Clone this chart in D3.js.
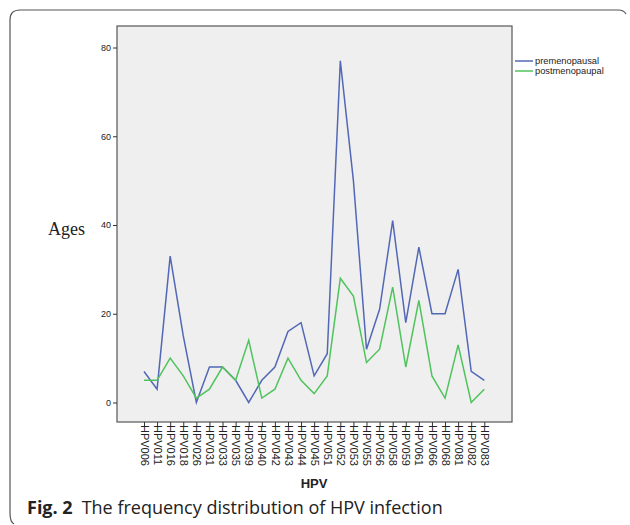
<!DOCTYPE html>
<html lang="en">
  <head>
    <meta charset="UTF-8" />
    <title>HPV frequency distribution</title>
    <script src="https://d3js.org/d3.v7.min.js"></script>
    <style>
      html,
      body {
        margin: 0;
        padding: 0;
        background: #fff;
      }
      .axis text {
        font-family: Arial, "Liberation Sans", sans-serif;
        font-size: 9px;
        fill: #222;
      }
      .axis path,
      .axis line {
        stroke: #333;
      }
    </style>
  </head>
  <body>
    <script>
      // categories (HPV types)
      var categories = ["HPV006", "HPV011", "HPV016", "HPV018", "HPV026", "HPV031", "HPV033",
        "HPV035", "HPV039", "HPV040", "HPV042", "HPV043", "HPV044", "HPV045", "HPV051",
        "HPV052", "HPV053", "HPV055", "HPV056", "HPV058", "HPV059", "HPV061", "HPV066",
        "HPV068", "HPV081", "HPV082", "HPV083"];

      var premenopausal = [7, 3, 33, 15, 0, 8, 8, 5, 0, 5, 8, 16, 18, 6, 11, 77, 50, 12, 21, 41, 18, 35, 20, 20, 30, 7, 5];
      var postmenopausal = [5, 5, 10, 6, 1, 3, 8, 5, 14, 1, 3, 10, 5, 2, 6, 28, 24, 9, 12, 26, 8, 23, 6, 1, 13, 0, 3];

      var yTicks = [0, 20, 40, 60, 80];
      var seriesNames = ["premenopausal", "postmenopaupal"];
      var seriesColors = ["#5268b6", "#4fc35c"];

      var W = 630, H = 525;
      var svg = d3.select("body").append("svg").attr("width", W).attr("height", H);

      // outer rounded frame (open at right and bottom)
      svg
        .append("path")
        .attr("d", "M626,14 Q624,10 618,10 L20,10 Q10,10 10,20 L10,513 Q10,522 14,524")
        .attr("fill", "none")
        .attr("stroke", "#555")
        .attr("stroke-width", 1.2);

      // plot box
      var box = { left: 117, top: 26, right: 512, bottom: 422 };
      svg
        .append("rect")
        .attr("x", box.left)
        .attr("y", box.top)
        .attr("width", box.right - box.left)
        .attr("height", box.bottom - box.top)
        .attr("fill", "#efefef")
        .attr("stroke", "#555")
        .attr("stroke-width", 1.2);

      var x = d3.scalePoint().domain(categories).range([144, 484.3]);
      var y = d3.scaleLinear().domain([0, 80]).range([402.5, 47.5]);

      // y axis (ticks only, box draws the line)
      var yAxis = svg
        .append("g")
        .attr("class", "axis")
        .attr("transform", "translate(" + box.left + ",0)")
        .call(d3.axisLeft(y).tickValues(yTicks).tickSizeOuter(0).tickSize(4).tickPadding(2));
      yAxis.select(".domain").remove();

      // x axis
      var xAxis = svg
        .append("g")
        .attr("class", "axis")
        .attr("transform", "translate(0," + box.bottom + ")")
        .call(d3.axisBottom(x).tickSizeOuter(0).tickSize(5).tickPadding(2));
      xAxis.select(".domain").remove();
      xAxis
        .selectAll("text")
        .attr("transform", "rotate(90)")
        .attr("x", 3)
        .attr("y", 0)
        .attr("dy", "0.35em")
        .style("text-anchor", "start")
        .style("font-size", "11px");

      // lines
      var line = d3
        .line()
        .x(function (d, i) {
          return x(categories[i]);
        })
        .y(function (d) {
          return y(d);
        });

      [premenopausal, postmenopausal].forEach(function (s, k) {
        svg
          .append("path")
          .datum(s)
          .attr("d", line)
          .attr("fill", "none")
          .attr("stroke", seriesColors[k])
          .attr("stroke-width", 1.5);
      });

      // legend
      var legend = svg.append("g").attr("transform", "translate(515,61)");
      seriesNames.forEach(function (n, i) {
        legend
          .append("line")
          .attr("x1", 0)
          .attr("x2", 18)
          .attr("y1", i * 10)
          .attr("y2", i * 10)
          .attr("stroke", seriesColors[i])
          .attr("stroke-width", 1.5);
        legend
          .append("text")
          .attr("x", 20)
          .attr("y", i * 10)
          .attr("dy", "0.35em")
          .attr("font-family", "Arial, 'Liberation Sans', sans-serif")
          .attr("font-size", 9.3)
          .attr("fill", "#222")
          .text(n);
      });

      // axis titles
      svg
        .append("text")
        .attr("x", 314)
        .attr("y", 488)
        .attr("text-anchor", "middle")
        .attr("font-family", "Arial, 'Liberation Sans', sans-serif")
        .attr("font-weight", "bold")
        .attr("font-size", 13)
        .attr("fill", "#222")
        .text("HPV");

      svg
        .append("text")
        .attr("x", 48)
        .attr("y", 235)
        .attr("font-family", "'Liberation Serif', 'DejaVu Serif', serif")
        .attr("font-size", 18)
        .attr("fill", "#222")
        .text("Ages");

      // caption
      var cap = svg
        .append("text")
        .attr("x", 27)
        .attr("y", 514)
        .attr("font-family", "'Open Sans', 'Noto Sans', sans-serif")
        .attr("font-size", 18)
        .attr("fill", "#222");
      cap.append("tspan").attr("font-weight", "bold").text("Fig. 2");
      cap.append("tspan").attr("dx", 9).text("The frequency distribution of HPV infection");
    </script>
  </body>
</html>
